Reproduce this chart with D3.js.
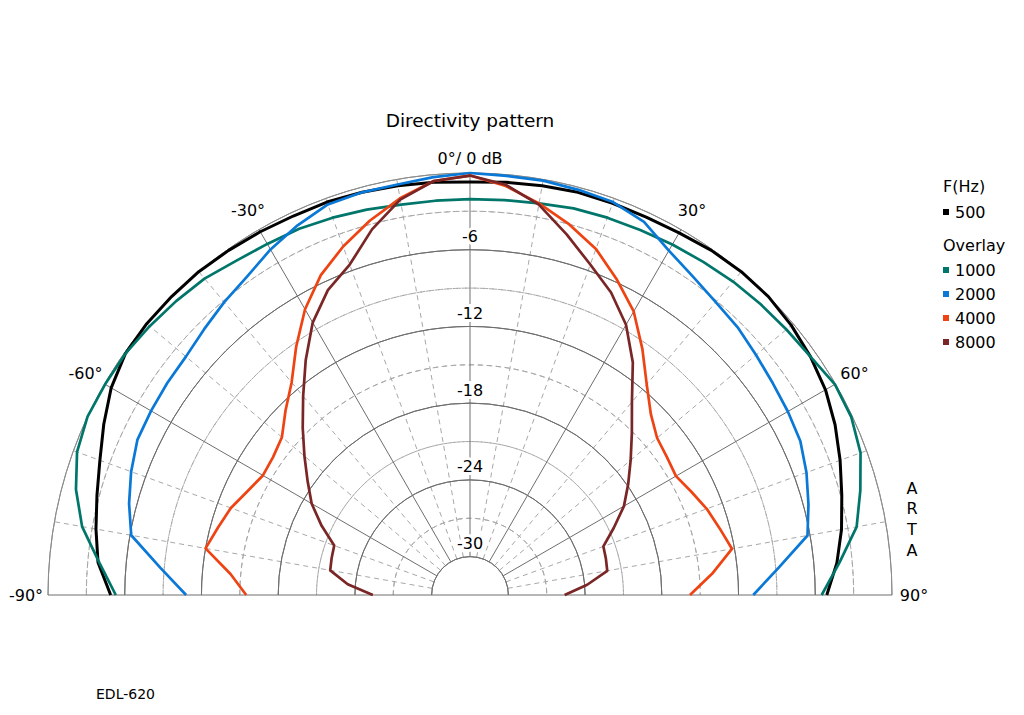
<!DOCTYPE html>
<html>
<head>
<meta charset="utf-8">
<script src="https://cdn.jsdelivr.net/npm/d3@7"></script>
<style>
  body { margin: 0; background: #fff; }
  text { font-family: "DejaVu Sans", Verdana, sans-serif; fill: #000; }
</style>
</head>
<body>
<div id="chart"></div>
<script>
var width = 1024
var height = 715

// angles in degrees, 0 = on axis, negative = left
var angles = [-90,-85,-80,-75,-70,-65,-60,-55,-50,-45,-40,-35,-30,-25,-20,-15,-10,-5,0,
              5,10,15,20,25,30,35,40,45,50,55,60,65,70,75,80,85,90]

// levels in dB
var f500  = [-4.9,-3.8,-3.3,-2.8,-2.2,-1.4,-0.6,-0.1,0,0,0,-0.1,-0.2,-0.3,-0.3,-0.4,-0.5,-0.6,-0.7,
             -0.6,-0.5,-0.4,-0.4,-0.4,-0.3,-0.1,0,0,-0.2,-0.5,-0.9,-1.5,-2.2,-2.9,-3.5,-4.2,-5.1]
var f1000 = [-5.3,-3.9,-2.2,-1.1,-0.3,0,-0.05,-0.1,-0.3,-0.5,-0.7,-1.1,-1.3,-1.4,-1.6,-1.8,-2.0,-2.05,-2.05,
             -2.0,-1.9,-1.7,-1.6,-1.5,-1.35,-1.2,-1.0,-0.85,-0.7,-0.5,-0.05,-0.1,-0.5,-1.4,-2.3,-4.0,-5.5]
var f2000 = [-10.8,-8.7,-6.1,-5.4,-4.8,-4.3,-4.2,-4.1,-4.0,-3.6,-3.1,-2.6,-1.8,-1.1,-0.5,-0.4,-0.4,-0.2,0,
             -0.1,-0.1,-0.2,-0.3,-0.8,-1.9,-2.6,-3.1,-3.4,-3.8,-4.1,-4.3,-4.5,-5.0,-5.6,-6.2,-8.8,-10.85]
var f4000 = [-15.5,-14.2,-12.0,-12.6,-13.1,-13.8,-14.3,-14.2,-13.8,-12.6,-11.3,-9.3,-7.2,-5.4,-4.0,-2.7,-1.5,-0.5,-0.2,
             -0.9,-1.9,-3.0,-4.2,-5.8,-7.4,-9.5,-11.5,-13.0,-13.9,-14.2,-14.4,-13.9,-13.3,-12.8,-12.2,-14.0,-15.8]
var f8000 = [-25.4,-23.4,-21.9,-21.8,-21.7,-20.2,-18.7,-17.5,-16.1,-14.5,-12.7,-10.6,-8.4,-6.7,-5.5,-3.4,-1.6,-0.5,-0.2,
             -0.8,-2.0,-3.8,-5.5,-6.9,-8.6,-10.8,-13.3,-15.1,-16.6,-17.9,-19.1,-20.6,-21.9,-22.0,-22.1,-23.8,-25.6]

var seriesNames = ["500", "1000", "2000", "4000", "8000"]
var seriesValues = [f500, f1000, f2000, f4000, f8000]
var seriesColours = ["#000000", "#00766b", "#0a78d6", "#ee4312", "#7a2626"]

var ringLevels = [0, -6, -12, -18, -24, -30]
var dashedLevels = [-3, -9, -15, -21, -27]
var spokeAngles = [-60, -30, 30, 60]
var dashedSpokes = [-80, -70, -50, -40, -20, -10, 10, 20, 40, 50, 70, 80]
var angleLabels = [-90, -60, -30, 30, 60, 90]

var cx = 470
var cy = 595
var R = 422

var svg = d3.select("#chart")
    .append("svg")
        .attr("width", width)
        .attr("height", height)

var r = d3.scaleLinear().domain([-33, 0]).range([0, R])
var a = d3.scaleLinear().domain([-90, 90]).range([-Math.PI/2, Math.PI/2])

var g = svg.append("g").attr("transform", "translate(" + cx + "," + cy + ")")

var arc = d3.arc()
    .startAngle(-Math.PI/2)
    .endAngle(Math.PI/2)

// dashed rings
g.selectAll(".dring")
    .data(dashedLevels)
    .enter()
    .append("path")
    .attr("d", function(d){ return arc({innerRadius: r(d), outerRadius: r(d)}) })
    .attr("fill", "none")
    .attr("stroke", "#a8a8a8")
    .attr("stroke-dasharray", "5,4")

// dashed spokes
g.selectAll(".dspoke")
    .data(dashedSpokes)
    .enter()
    .append("line")
    .attr("x1", function(d){ return r(-30) * Math.sin(a(d)) })
    .attr("y1", function(d){ return -r(-30) * Math.cos(a(d)) })
    .attr("x2", function(d){ return R * Math.sin(a(d)) })
    .attr("y2", function(d){ return -R * Math.cos(a(d)) })
    .attr("stroke", "#a8a8a8")
    .attr("stroke-dasharray", "5,4")

// solid rings
g.selectAll(".ring")
    .data(ringLevels)
    .enter()
    .append("path")
    .attr("d", function(d){ return arc({innerRadius: r(d), outerRadius: r(d)}) })
    .attr("fill", "none")
    .attr("stroke", function(d){ return d === 0 ? "#8c8c8c" : "#6e6e6e" })

// solid spokes
g.selectAll(".spoke")
    .data(spokeAngles)
    .enter()
    .append("line")
    .attr("x1", function(d){ return r(-30) * Math.sin(a(d)) })
    .attr("y1", function(d){ return -r(-30) * Math.cos(a(d)) })
    .attr("x2", function(d){ return R * Math.sin(a(d)) })
    .attr("y2", function(d){ return -R * Math.cos(a(d)) })
    .attr("stroke", "#6e6e6e")

g.append("line")
    .attr("x1", 0).attr("y1", -r(-30))
    .attr("x2", 0).attr("y2", -R)
    .attr("stroke", "#6e6e6e")

g.append("line")
    .attr("x1", -R).attr("y1", 0)
    .attr("x2", R).attr("y2", 0)
    .attr("stroke", "#6e6e6e")

// curves
var line = d3.lineRadial()
    .angle(function(d){ return a(d[0]) })
    .radius(function(d){ return r(d[1]) })

seriesValues.forEach(function(vals, i){
    g.append("path")
        .datum(angles.map(function(ang, j){ return [ang, vals[j]] }))
        .attr("d", line)
        .attr("fill", "none")
        .attr("stroke", seriesColours[i])
        .attr("stroke-width", i === 0 ? 3 : 2.7)
        .attr("stroke-linejoin", "round")
})

// dB labels on the axis
g.selectAll(".dblabel")
    .data(ringLevels.slice(1))
    .enter()
    .append("text")
    .attr("x", 0)
    .attr("y", function(d){ return -r(d) - 13 })
    .attr("text-anchor", "middle")
    .attr("dominant-baseline", "central")
    .attr("font-size", 16)
    .attr("stroke", "#fff")
    .attr("stroke-width", 6)
    .attr("paint-order", "stroke")
    .text(function(d){ return d })

g.append("text")
    .attr("x", 0)
    .attr("y", -R - 15)
    .attr("text-anchor", "middle")
    .attr("dominant-baseline", "central")
    .attr("font-size", 16)
    .text("0°/ 0 dB")

// angle labels
g.selectAll(".alabel")
    .data(angleLabels)
    .enter()
    .append("text")
    .attr("x", function(d){ return (R + 22) * Math.sin(a(d)) })
    .attr("y", function(d){ return -(R + 22) * Math.cos(a(d)) })
    .attr("text-anchor", "middle")
    .attr("dominant-baseline", "central")
    .attr("font-size", 16)
    .text(function(d){ return d + "°" })

svg.append("text")
    .attr("x", cx)
    .attr("y", 120)
    .attr("text-anchor", "middle")
    .attr("dominant-baseline", "central")
    .attr("font-size", 18.5)
    .text("Directivity pattern")

svg.append("text")
    .attr("x", 96)
    .attr("y", 694)
    .attr("dominant-baseline", "central")
    .attr("font-size", 14)
    .text("EDL-620")

// ARTA vertical
svg.selectAll(".arta")
    .data(["A", "R", "T", "A"])
    .enter()
    .append("text")
    .attr("x", 912)
    .attr("y", function(d, i){ return 488 + i * 20.7 })
    .attr("text-anchor", "middle")
    .attr("dominant-baseline", "central")
    .attr("font-size", 16)
    .text(function(d){ return d })

// legend
var lx = 943
svg.append("text").attr("x", lx).attr("y", 186).attr("dominant-baseline", "central")
    .attr("font-size", 16).text("F(Hz)")
svg.append("text").attr("x", lx).attr("y", 245).attr("dominant-baseline", "central")
    .attr("font-size", 16).text("Overlay")

var legendY = [212, 270, 294, 318, 342]
seriesNames.forEach(function(name, i){
    svg.append("rect")
        .attr("x", lx)
        .attr("y", legendY[i] - 3)
        .attr("width", 6)
        .attr("height", 6)
        .attr("fill", seriesColours[i])
    svg.append("text")
        .attr("x", lx + 12)
        .attr("y", legendY[i])
        .attr("dominant-baseline", "central")
        .attr("font-size", 16)
        .text(name)
})
</script>
</body>
</html>
